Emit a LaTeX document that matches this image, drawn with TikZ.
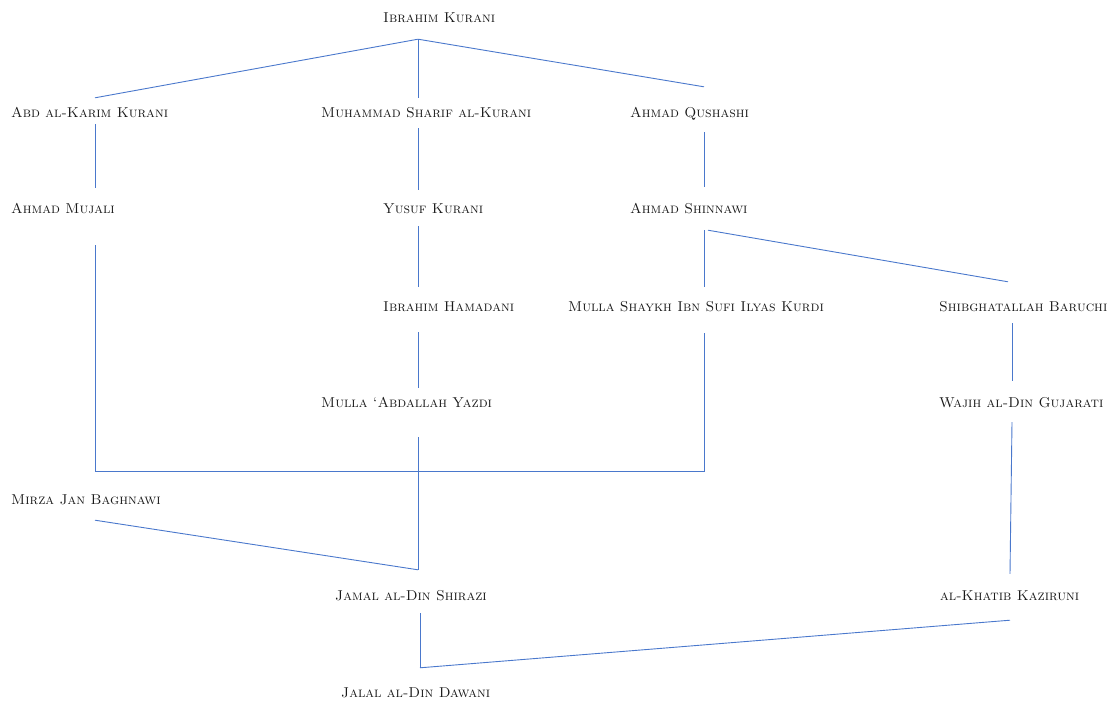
\documentclass[tikz,border=0pt]{standalone}
\usepackage{tikz}
\usetikzlibrary{calc}
\definecolor{linkblue}{HTML}{4A78CC}
\tikzstyle{scholar} = [anchor=west, inner sep=0pt, text height=10pt, text depth=0pt, font=\fontsize{14.3}{17}\selectfont\scshape, text=black!90]
\tikzstyle{link} = [draw=linkblue, line width=0.9pt]

\begin{document}
\begin{tikzpicture}[x=1pt, y=-1pt]
        \useasboundingbox (0,0) rectangle (1117,704);
        \node (ibrahim) [scholar] at (383,17) {Ibrahim Kurani};
        \node (abd-karim) [scholar] at (11,112) {Abd al-Karim Kurani};
        \node (muhammad) [scholar] at (321,112) {Muhammad Sharif al-Kurani};
        \node (qushashi) [scholar] at (630,112) {Ahmad Qushashi};
        \node (mujali) [scholar] at (11,208) {Ahmad Mujali};
        \node (yusuf) [scholar] at (383,208) {Yusuf Kurani};
        \node (shinnawi) [scholar] at (630,208) {Ahmad Shinnawi};
        \node (hamadani) [scholar] at (383,306) {Ibrahim Hamadani};
        \node (kurdi) [scholar] at (568,306) {Mulla Shaykh Ibn Sufi Ilyas Kurdi};
        \node (baruchi) [scholar] at (939,306) {Shibghatallah Baruchi};
        \node (yazdi) [scholar] at (321,402) {Mulla \textquoteleft Abdallah Yazdi};
        \node (gujarati) [scholar] at (939,402) {Wajih al-Din Gujarati};
        \node (mirza) [scholar] at (11,499) {Mirza Jan Baghnawi};
        \node (shirazi) [scholar] at (335,595) {Jamal al-Din Shirazi};
        \node (kaziruni) [scholar] at (940,595) {al-Khatib Kaziruni};
        \node (dawani) [scholar] at (341,692) {Jalal al-Din Dawani};
        \coordinate (col-1) at (95,0);
        \coordinate (col-2) at (418,0);
        \coordinate (col-3) at (704,0);
        \coordinate (col-4) at (1012,0);
        \coordinate (fork) at ($(ibrahim.south -| col-2)+(0,17)$);
        \coordinate (meet) at ($(mirza.north -| col-3)+(0,-22)$);
        \coordinate (dawani-top) at ($(dawani.north -| col-2)+(2,-19)$);
        \draw [link] (fork) -- ($(abd-karim.north -| col-1)+(0,-9)$);
        \draw [link] (fork) -- ($(muhammad.north -| col-2)+(0,-9)$);
        \draw [link] (fork) -- ($(qushashi.north -| col-3)+(0,-20)$);
        \draw [link] ($(abd-karim.south -| col-1)+(0,7)$) -- ($(mujali.north -| col-1)+(0,-15)$);
        \draw [link] ($(muhammad.south -| col-2)+(0,11)$) -- ($(yusuf.north -| col-2)+(0,-13)$);
        \draw [link] ($(qushashi.south -| col-3)+(0,15)$) -- ($(shinnawi.north -| col-3)+(0,-16)$);
        \draw [link] ($(mujali.south -| col-1)+(0,32)$) |- (meet);
        \draw [link] ($(kurdi.south -| col-3)+(0,22)$) -- (meet);
        \draw [link] ($(yusuf.south -| col-2)+(0,13)$) -- ($(hamadani.north -| col-2)+(0,-14)$);
        \draw [link] ($(shinnawi.south -| col-3)+(0,17)$) -- ($(kurdi.north -| col-3)+(0,-14)$);
        \draw [link] ($(shinnawi.south -| col-3)+(4,17)$) -- ($(baruchi.north -| col-4)+(-4,-19)$);
        \draw [link] ($(hamadani.south -| col-2)+(0,21)$) -- ($(yazdi.north -| col-2)+(0,-9)$);
        \draw [link] ($(baruchi.south -| col-4)+(0,12)$) -- ($(gujarati.north -| col-4)+(0,-16)$);
        \draw [link] ($(yazdi.south -| col-2)+(0,30)$) -- ($(shirazi.north -| col-2)+(0,-20)$);
        \draw [link] ($(mirza.south -| col-1)+(0,16)$) -- ($(shirazi.north -| col-2)+(0,-20)$);
        \draw [link] ($(gujarati.south -| col-4)+(0,15)$) -- ($(kaziruni.north -| col-4)+(-2,-16)$);
        \draw [link] ($(shirazi.south -| col-2)+(2,13)$) -- (dawani-top);
        \draw [link] ($(kaziruni.south -| col-4)+(-2,20)$) -- (dawani-top);
\end{tikzpicture}
\end{document}
